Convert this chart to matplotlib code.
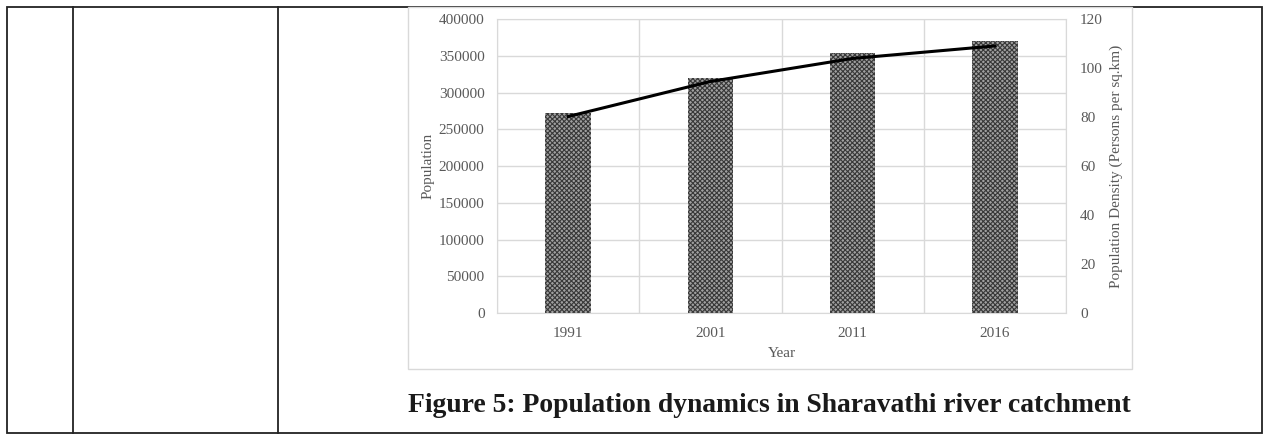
import matplotlib.pyplot as plt
import numpy as np
from matplotlib.patches import Rectangle

years = ['1991', '2001', '2011', '2016']
population = [272500, 319500, 353300, 370500]
density = [80.2, 94.5, 103.9, 109.0]

W, H = 1264, 434
fig = plt.figure(figsize=(W / 100, H / 100), dpi=100)
plt.rcParams['font.family'] = ['Liberation Serif', 'DejaVu Serif']
plt.rcParams['hatch.linewidth'] = 0.8

def box(x0, y0, x1, y1):
    # pixel coords (top-left origin) -> figure fraction
    return [x0 / W, 1 - y1 / H, (x1 - x0) / W, (y1 - y0) / H]

# table background / borders
bg = fig.add_axes([0, 0, 1, 1])
bg.set_xlim(0, W)
bg.set_ylim(H, 0)
bg.axis('off')
tc = '#222222'
bg.add_patch(Rectangle((7, 7), 1255, 426, fill=False, ec=tc, lw=1.3))
for xv in [73, 278]:
    bg.plot([xv, xv], [7, 433], color=tc, lw=1.3)
# chart frame
bg.add_patch(Rectangle((408, 7), 724, 362, fill=False, ec='#d9d9d9', lw=1.0))
bg.text(408, 405, 'Figure 5: Population dynamics in Sharavathi river catchment',
        fontsize=19.9, fontweight='bold', ha='left', va='center', color='#1a1a1a')

grey = '#595959'
grid = '#d9d9d9'
ax = fig.add_axes(box(497, 19, 1066, 313))
x = np.arange(len(years))
ax.bar(x, population, width=0.32, color='#a0a0a0', edgecolor='#383838',
       hatch='xxxxxxx', linewidth=0, zorder=2)
ax.set_xlim(-0.5, len(years) - 0.5)
ax.set_ylim(0, 400000)
ax.set_yticks(np.arange(0, 400001, 50000))
ax.set_xticks(x, years)
ax.set_xticks(np.arange(-0.5, len(years), 1), minor=True)
ax.grid(True, axis='y', color=grid, lw=1.0, zorder=0)
ax.grid(True, axis='x', which='minor', color=grid, lw=1.0, zorder=0)
ax.tick_params(axis='both', which='both', length=0, labelsize=11, colors=grey)
ax.tick_params(axis='y', pad=9)
ax.tick_params(axis='x', pad=10)
for s in ax.spines.values():
    s.set_color(grid)
ax.set_ylabel('Population', fontsize=11, color=grey, labelpad=3)
ax.set_xlabel('Year', fontsize=11, color=grey, labelpad=5)

ax2 = ax.twinx()
ax2.plot(x, density, color='black', lw=2.2, zorder=3)
ax2.set_ylim(0, 120)
ax2.set_yticks(np.arange(0, 121, 20))
ax2.tick_params(axis='y', length=0, labelsize=11, colors=grey, pad=10)
for s in ax2.spines.values():
    s.set_visible(False)
ax2.set_ylabel('Population Density (Persons per sq.km)', fontsize=11, color=grey, labelpad=5)

fig.savefig('out.png', dpi=100)
